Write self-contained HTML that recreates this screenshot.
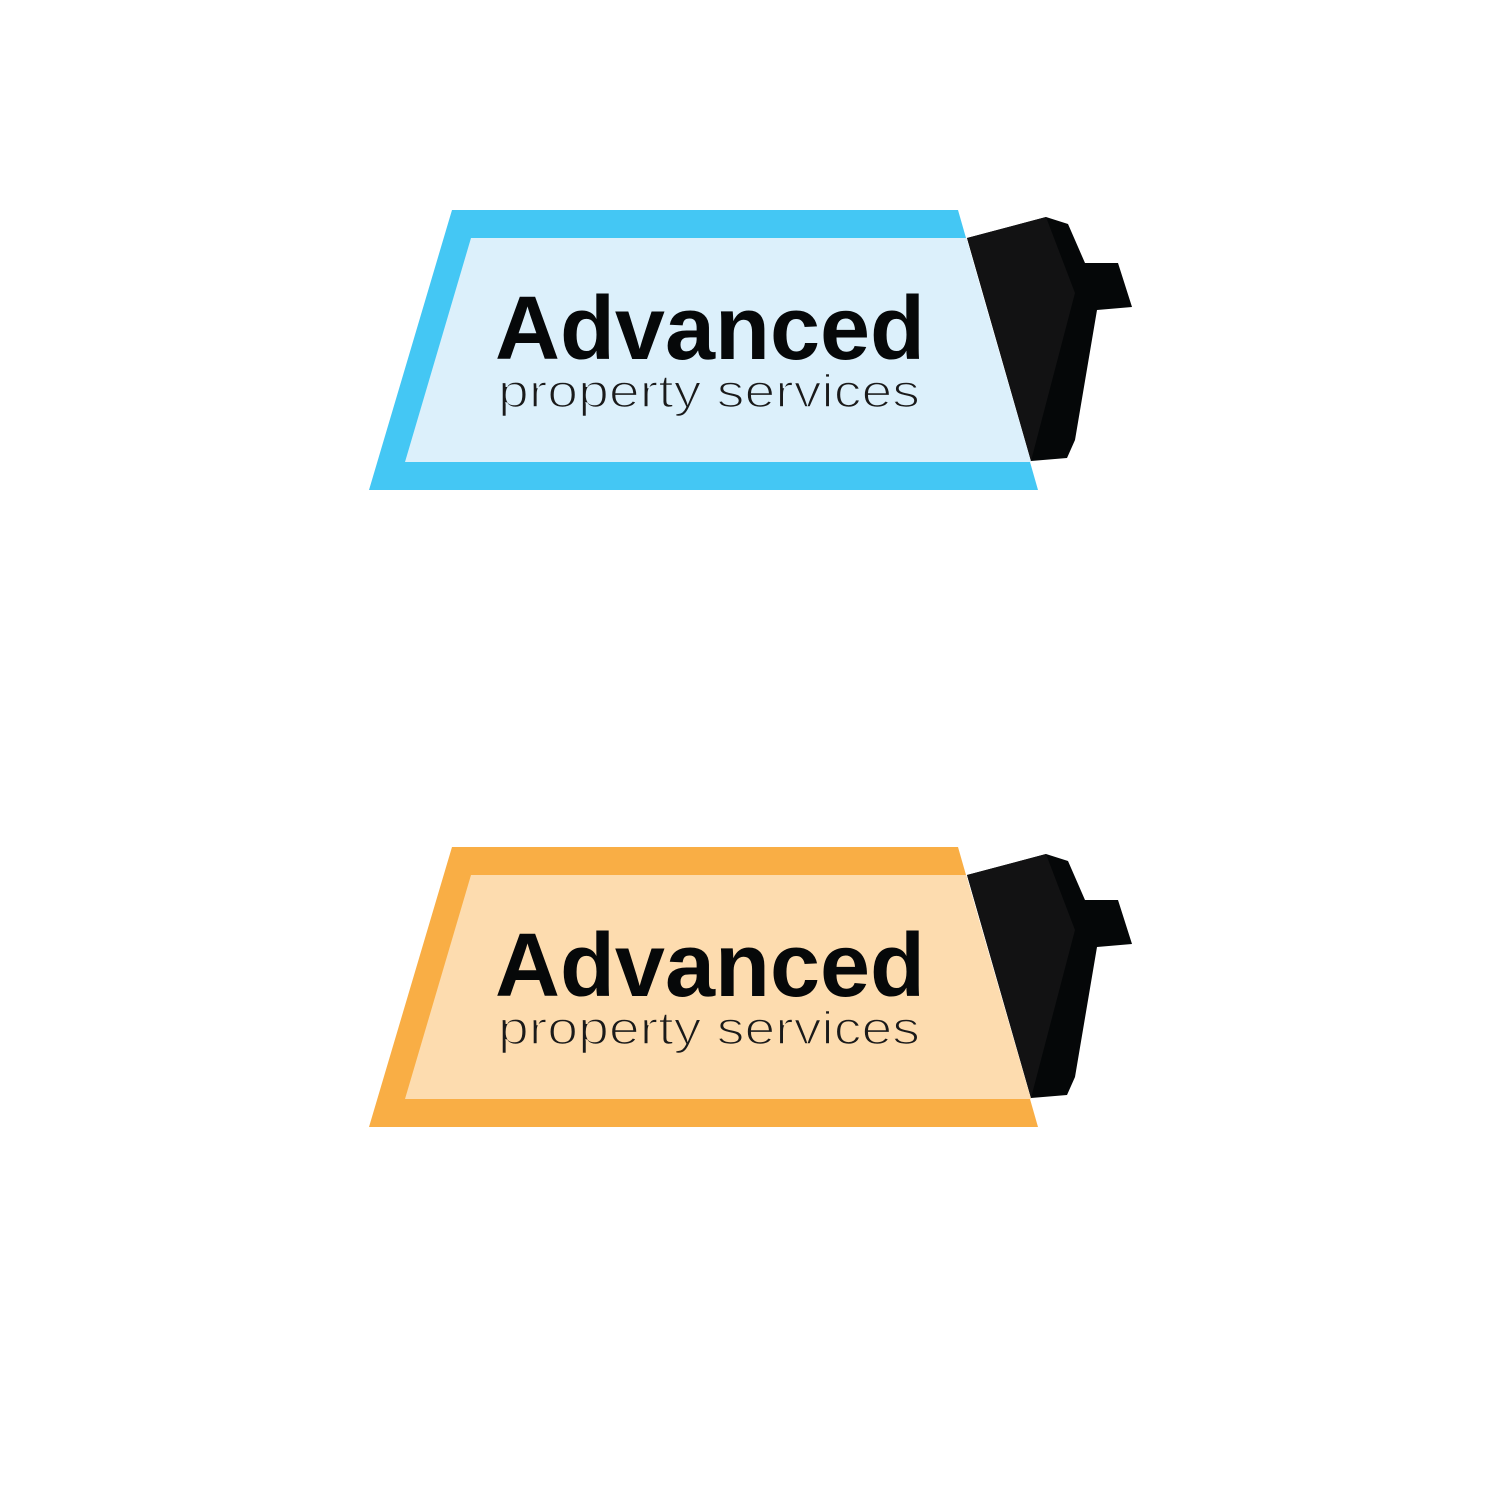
<!DOCTYPE html>
<html><head><meta charset="utf-8"><style>
html,body{margin:0;padding:0;background:#fff;}
svg{display:block;}
</style></head><body>
<svg width="1500" height="1500" viewBox="0 0 1500 1500" xmlns="http://www.w3.org/2000/svg">
<rect width="1500" height="1500" fill="#fff"/>
<defs>
<g id="blk">
  <polygon points="967,238 1046,217 1068,224 1085,263 1118,263 1132,307 1097,310 1075,440 1067,458 1031,461" fill="#050708"/>
  <polygon points="967,238 1046,217 1075,293 1031,461" fill="#121213"/>
  <text x="495" y="359" font-family="Liberation Sans, sans-serif" font-weight="bold" font-size="90" fill="#060809" textLength="430" lengthAdjust="spacingAndGlyphs">Advanced</text>
</g>
</defs>
<g>
  <polygon points="452,210 958,210 1038,490 369,490" fill="#44C7F4"/>
  <polygon points="471,238 966,238 1031,462 405,462" fill="#DCF0FB"/>
  <use href="#blk"/>
  <text x="498" y="407" font-family="Liberation Sans, sans-serif" font-size="46" fill="#1a1a1a" stroke="#DCF0FB" stroke-width="1.6" textLength="422" lengthAdjust="spacingAndGlyphs">property services</text>
</g>
<g transform="translate(0,637)">
  <polygon points="452,210 958,210 1038,490 369,490" fill="#F9AE45"/>
  <polygon points="471,238 966,238 1031,462 405,462" fill="#FDDCAF"/>
  <use href="#blk"/>
  <text x="498" y="407" font-family="Liberation Sans, sans-serif" font-size="46" fill="#1a1a1a" stroke="#FDDCAF" stroke-width="1.6" textLength="422" lengthAdjust="spacingAndGlyphs">property services</text>
</g>
</svg>
</body></html>
